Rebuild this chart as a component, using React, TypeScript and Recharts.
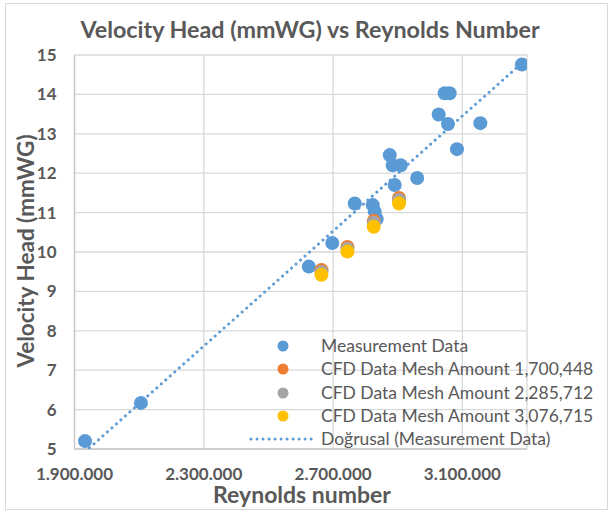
import React from 'react';
import { ScatterChart, Scatter, XAxis, YAxis, CartesianGrid, Legend } from 'recharts';

// Measurement data: [Reynolds number, velocity head mmWG]
const measX = [1932500, 2105600, 2624900, 2697500, 2767000, 2822700, 2828900, 2835100, 2875300, 2884500, 2909300, 2890700, 2960300, 3026700, 3045300, 3060700, 3055500, 3083300, 3155600, 3284300];
const measY = [5.2, 6.17, 9.63, 10.23, 11.23, 11.19, 11.02, 10.84, 12.46, 12.2, 12.2, 11.7, 11.88, 13.49, 14.03, 14.03, 13.25, 12.61, 13.27, 14.76];

const cfdX = [2664100, 2744500, 2825800, 2904000];
const cfd1Y = [9.54, 10.13, 10.79, 11.37];
const cfd2Y = [9.49, 10.08, 10.74, 11.32];
const cfd3Y = [9.42, 10.01, 10.64, 11.23];

const xTicks = [1900000, 2300000, 2700000, 3100000];
const yTicks = [5, 6, 7, 8, 9, 10, 11, 12, 13, 14, 15];

const seriesNames = [
  'Measurement Data',
  'CFD Data Mesh Amount 1,700,448',
  'CFD Data Mesh Amount 2,285,712',
  'CFD Data Mesh Amount 3,076,715',
];
const trendName = 'Doğrusal (Measurement Data)';
const colors = ['#5B9BD5', '#ED7D31', '#A5A5A5', '#FFC000'];

const meas = measX.map((x, i) => ({ x, y: measY[i] }));
const cfd1 = cfdX.map((x, i) => ({ x, y: cfd1Y[i] }));
const cfd2 = cfdX.map((x, i) => ({ x, y: cfd2Y[i] }));
const cfd3 = cfdX.map((x, i) => ({ x, y: cfd3Y[i] }));

// Linear least-squares trendline of the measurement data (as Excel does)
const n = measX.length;
const mx = measX.reduce((a, b) => a + b, 0) / n;
const my = measY.reduce((a, b) => a + b, 0) / n;
let sxy = 0, sxx = 0;
for (let i = 0; i < n; i++) {
  sxy += (measX[i] - mx) * (measY[i] - my);
  sxx += (measX[i] - mx) * (measX[i] - mx);
}
const slope = sxy / sxx;
const intercept = my - slope * mx;
const xMin = Math.min(...measX);
const xMax = Math.max(...measX);
const trend = [
  { x: xMin, y: intercept + slope * xMin },
  { x: xMax, y: intercept + slope * xMax },
];

const fmt = (v: number) => String(v).replace(/\B(?=(\d{3})+(?!\d))/g, '.');

const dot = (color: string) => (props: any) => (
  <circle cx={props.cx} cy={props.cy} r={7} fill={color} />
);

const FONT = 'Lato, "Liberation Sans", sans-serif';
const GREY = '#595959';
const LEG_FS = 17.5;

const XTick = (props: any) => (
  <text x={props.x} y={props.y} dy={15} textAnchor="middle" fill={GREY} fontSize={17} fontWeight={700} fontFamily={FONT}>
    {fmt(props.payload.value)}
  </text>
);

const LegendBox = () => (
  <div style={{ position: 'absolute', left: 0, top: 0, width: 608, height: 511, pointerEvents: 'none' }}>
    {seriesNames.map((name, i) => (
      <div key={name} style={{ position: 'absolute', left: 0, top: 346 + i * 23.3 - 11, height: 22, width: 608 }}>
        <svg style={{ position: 'absolute', left: 275, top: 4 }} width={16} height={16}>
          <circle cx={8} cy={7} r={5.5} fill={colors[i]} />
        </svg>
        <span style={{ position: 'absolute', left: 321, top: 0, fontSize: LEG_FS, color: GREY, fontFamily: FONT, whiteSpace: 'nowrap', lineHeight: '22px' }}>{name}</span>
      </div>
    ))}
    <div style={{ position: 'absolute', left: 0, top: 346 + 4 * 23.3 - 11, height: 22, width: 608 }}>
      <svg style={{ position: 'absolute', left: 246, top: 4 }} width={70} height={16}>
        <line x1={5} y1={7} x2={66} y2={7} stroke={colors[0]} strokeWidth={3} strokeDasharray="0.01 6" strokeLinecap="round" />
      </svg>
      <span style={{ position: 'absolute', left: 321, top: 0, fontSize: LEG_FS, color: GREY, fontFamily: FONT, whiteSpace: 'nowrap', lineHeight: '22px' }}>{trendName}</span>
    </div>
  </div>
);

export default function App() {
  return (
    <div style={{ position: 'absolute', left: 0, top: 0, width: 608, height: 511, background: '#fff', fontFamily: FONT }}>
      <div style={{ position: 'absolute', left: 5, top: 3, width: 601, height: 505, border: '1px solid #d9d9d9' }} />
      <ScatterChart width={608} height={511} margin={{ top: 55, right: 81, bottom: 32, left: 14.5 }}>
        <CartesianGrid stroke="#d9d9d9" strokeWidth={1.3} />
        <XAxis
          type="number"
          dataKey="x"
          domain={[1900000, 3300000]}
          ticks={xTicks}
          height={30}
          axisLine={{ stroke: '#c8c8c8', strokeWidth: 1.3 }}
          tickLine={false}
          tickSize={8}
          tickMargin={8}
          tick={<XTick />}
          allowDataOverflow
        />
        <YAxis
          type="number"
          dataKey="y"
          domain={[5, 15]}
          ticks={yTicks}
          width={60}
          axisLine={{ stroke: '#c8c8c8', strokeWidth: 1.3 }}
          tickLine={false}
          tickSize={0}
          tickMargin={18}
          tick={{ fill: GREY, fontSize: 17, fontWeight: 700, fontFamily: FONT }}
          allowDataOverflow
        />
        <Scatter
          name={trendName}
          data={trend}
          isAnimationActive={false}
          line={{ stroke: colors[0], strokeWidth: 3, strokeDasharray: '0.01 6', strokeLinecap: 'round' }}
          shape={() => null}
        />
        <Scatter name={seriesNames[0]} data={meas} isAnimationActive={false} shape={dot(colors[0])} />
        <Scatter name={seriesNames[1]} data={cfd1} isAnimationActive={false} shape={dot(colors[1])} />
        <Scatter name={seriesNames[2]} data={cfd2} isAnimationActive={false} shape={dot(colors[2])} />
        <Scatter name={seriesNames[3]} data={cfd3} isAnimationActive={false} shape={dot(colors[3])} />
        <Legend content={() => null} />
      </ScatterChart>
      <LegendBox />
      <div style={{ position: 'absolute', left: 0, width: 620, top: 15, textAlign: 'center', fontSize: 23.3, fontWeight: 700, color: GREY, fontFamily: FONT, whiteSpace: 'nowrap' }}>
        Velocity Head (mmWG) vs Reynolds Number
      </div>
      <div style={{ position: 'absolute', left: 302 - 150, width: 300, top: 485, height: 18, textAlign: 'center', fontSize: 23, fontWeight: 700, color: GREY, fontFamily: FONT, whiteSpace: 'nowrap', lineHeight: '18px' }}>
        Reynolds number
      </div>
      <div style={{ position: 'absolute', left: 26 - 150, top: 251 - 14, width: 300, height: 28, lineHeight: '28px', textAlign: 'center', fontSize: 22.5, fontWeight: 700, color: GREY, fontFamily: FONT, whiteSpace: 'nowrap', transform: 'rotate(-90deg)' }}>
        Velocity Head (mmWG)
      </div>
    </div>
  );
}
